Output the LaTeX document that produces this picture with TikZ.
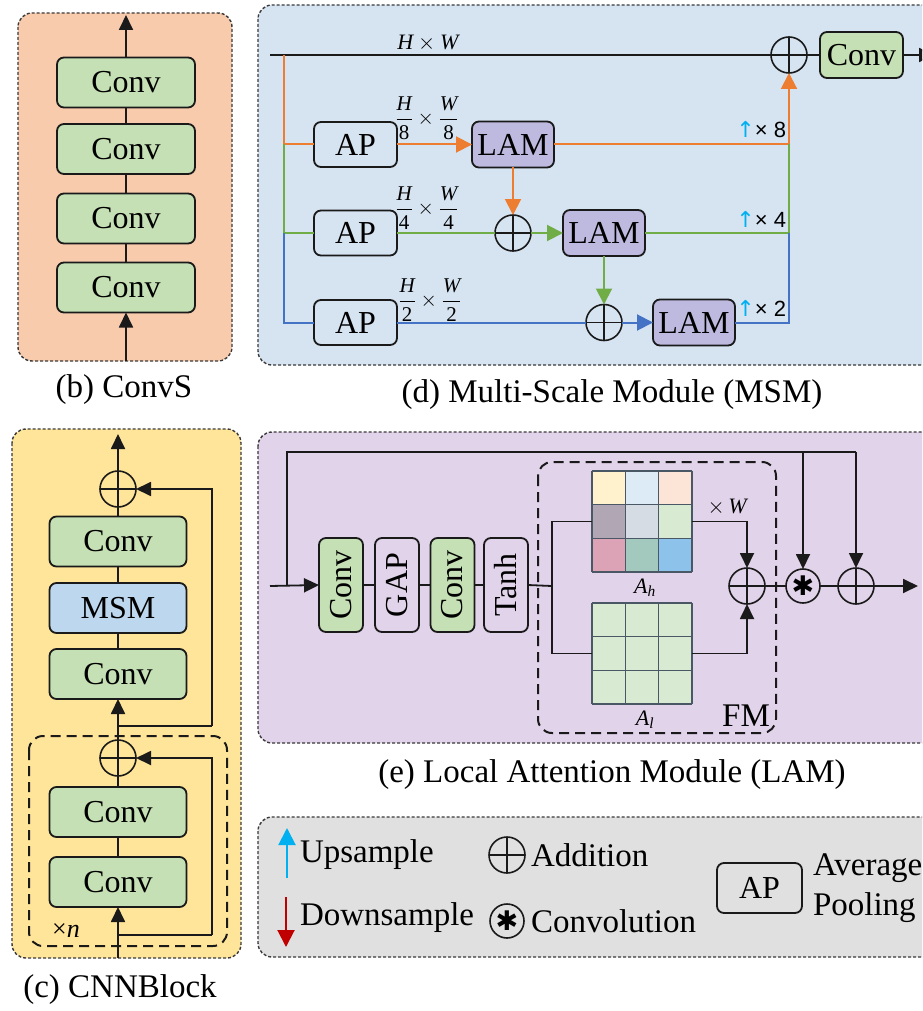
\RequirePackage{fix-cm}
\documentclass[tikz,border=0pt]{standalone}
\usepackage{fontspec}
\usepackage{amsmath}
\setmainfont{Liberation Serif}
\newfontfamily\arialfont{Liberation Sans}
\newfontfamily\djv{DejaVu Sans}
\usetikzlibrary{arrows.meta}
\definecolor{peach}{HTML}{F8CBAD}
\definecolor{convg}{HTML}{C5E0B4}
\definecolor{msmbg}{HTML}{D6E4F2}
\definecolor{lamc}{HTML}{BDB9DF}
\definecolor{cnnbg}{HTML}{FFE599}
\definecolor{msmbox}{HTML}{BDD7EE}
\definecolor{lambg}{HTML}{E1D3EA}
\definecolor{legbg}{HTML}{E0E0E0}
\definecolor{orangec}{HTML}{ED7D31}
\definecolor{greenc}{HTML}{70AD47}
\definecolor{bluec}{HTML}{4472C4}
\definecolor{upc}{HTML}{00B0F0}
\definecolor{downc}{HTML}{C00000}
\definecolor{linec}{HTML}{1A1A1A}
\definecolor{panelline}{HTML}{3A3A3A}
\definecolor{gridc}{HTML}{4A5866}
\definecolor{cA}{HTML}{FFF2CC}
\definecolor{cB}{HTML}{DDEBF7}
\definecolor{cC}{HTML}{FCE4D6}
\definecolor{cD}{HTML}{B1A6B3}
\definecolor{cE}{HTML}{D5DCE4}
\definecolor{cF}{HTML}{D9EAD3}
\definecolor{cG}{HTML}{DBA3B5}
\definecolor{cH}{HTML}{A3C8BD}
\definecolor{cI}{HTML}{8DC3EA}
\tikzset{
  every node/.style={inner sep=0pt, outer sep=0pt},
  bigtext/.style={font=\fontsize{32}{38}\selectfont},
  captext/.style={font=\fontsize{33}{40}\selectfont},
  box/.style={draw=linec, line width=1.8pt, rounded corners=7pt, bigtext},
  convbox/.style={box, fill=convg},
  cvbox/.style={convbox, minimum width=137pt, minimum height=50pt},
  apbox/.style={box, minimum width=83pt, minimum height=45pt},
  lambox/.style={box, fill=lamc, minimum width=82pt, minimum height=46pt},
  vbox/.style={box, minimum width=44pt, minimum height=94pt},
  panel/.style={draw=panelline, line width=1.4pt, dash pattern=on 3pt off 2pt, rounded corners=14pt},
  innerdash/.style={draw=linec, line width=2pt, dash pattern=on 10pt off 6pt, rounded corners=14pt},
  oplus/.style={circle, draw=linec, line width=1.6pt, minimum size=36pt,
    path picture={\draw[line width=1.6pt] (path picture bounding box.north) -- (path picture bounding box.south)
      (path picture bounding box.west) -- (path picture bounding box.east);}},
  opast/.style={circle, draw=linec, line width=1.6pt, minimum size=34pt, font=\djv\fontsize{27}{27}\selectfont},
  ln/.style={draw=linec, line width=1.8pt},
  cl/.style={line width=2pt},
  arr/.style={ln, -{Triangle[length=15pt,width=14pt]}},
  carr/.style={cl, -{Triangle[length=16pt,width=16pt]}},
  frac/.style={font=\fontsize{21}{25}\selectfont},
  smalllab/.style={font=\fontsize{22}{26}\selectfont},
  uplab/.style={font=\fontsize{22}{26}\selectfont, anchor=east},
  gridline/.style={draw=gridc, line width=1.5pt},
}
\begin{document}
\begin{tikzpicture}[x=1pt, y=-1pt]
\useasboundingbox (0,0) rectangle (922,1011);
\clip (0,0) rectangle (922,1011);
\fill[white] (0,0) rectangle (922,1011);

% ---------------- (b) ConvS ----------------
\draw[panel, fill=peach] (18,13) rectangle (232,361);
\node[cvbox, minimum width=138pt] (cs1) at (126,82.5) {Conv};
\node[cvbox, minimum width=138pt] (cs2) at (126,149) {Conv};
\node[cvbox, minimum width=138pt] (cs3) at (126,218.5) {Conv};
\node[cvbox, minimum width=138pt] (cs4) at (126,287.5) {Conv};
\coordinate (csout) at (126,15);
\coordinate (csin) at (126,361);
\draw[arr] (cs1.north) -- (csout);
\draw[ln] (cs1.south) -- (cs2.north);
\draw[ln] (cs2.south) -- (cs3.north);
\draw[ln] (cs3.south) -- (cs4.north);
\draw[arr] (csin) -- (cs4.south);
\node[captext] (capb) at (124,390) {(b) ConvS};

% ---------------- (d) MSM ----------------
\draw[panel, fill=msmbg] (258,5) rectangle (980,365);
\node[oplus] (mplus) at (789,55) {};
\node[convbox, minimum width=83pt, minimum height=46pt] (mconv) at (861.5,55) {Conv};
\coordinate (mstart) at (270,55);
\coordinate (mout) at (934,55);
\draw[ln] (mstart) -- (mplus.west);
\draw[ln] (mplus.east) -- (mconv.west);
\draw[arr] (mconv.east) -- (mout);
\node[smalllab] (lhw) at (428,43) {$\textit{H}\times\textit{W}$};

\node[apbox] (ap1) at (355.5,144.5) {AP};
\node[apbox] (ap2) at (355.5,233) {AP};
\node[apbox] (ap3) at (355.5,322.5) {AP};
\node[lambox] (lam1) at (513,144.5) {LAM};
\node[lambox] (lam2) at (604,233) {LAM};
\node[lambox] (lam3) at (694,322.5) {LAM};
\node[oplus] (op2) at (513,233) {};
\node[oplus] (op3) at (604,322.5) {};

\coordinate (mtap) at (284,55);
\coordinate (mj1) at (284,144.5);
\coordinate (mj2) at (284,233);
\coordinate (mj3) at (284,322.5);
\coordinate (mr1) at (789,144.5);
\coordinate (mr2) at (789,233);
\coordinate (mr3) at (789,322.5);

% orange
\draw[cl, orangec] (mtap) -- (mj1) -- (ap1.west);
\draw[carr, orangec] (ap1.east) -- (lam1.west);
\draw[cl, orangec] (lam1.east) -- (mr1);
\draw[carr, orangec] (mr1) -- (mplus.south);
\draw[carr, orangec] (lam1.south) -- (op2.north);
% green
\draw[cl, greenc] (mj1) -- (mj2) -- (ap2.west);
\draw[cl, greenc] (ap2.east) -- (op2.west);
\draw[carr, greenc] (op2.east) -- (lam2.west);
\draw[cl, greenc] (lam2.east) -- (mr2) -- (mr1);
\draw[carr, greenc] (lam2.south) -- (op3.north);
% blue
\draw[cl, bluec] (mj2) -- (mj3) -- (ap3.west);
\draw[cl, bluec] (ap3.east) -- (op3.west);
\draw[carr, bluec] (op3.east) -- (lam3.west);
\draw[cl, bluec] (lam3.east) -- (mr3) -- (mr2);

\node[frac] (fr1) at (427,118) {$\dfrac{\textit{H}}{\text{8}}\times\dfrac{\textit{W}}{\text{8}}$};
\node[frac] (fr2) at (427,208) {$\dfrac{\textit{H}}{\text{4}}\times\dfrac{\textit{W}}{\text{4}}$};
\node[frac] (fr3) at (430,300) {$\dfrac{\textit{H}}{\text{2}}\times\dfrac{\textit{W}}{\text{2}}$};
\node[uplab] (up8) at (786,130) {{\djv\color{upc}↑}{\arialfont × 8}};
\node[uplab] (up4) at (786,219) {{\djv\color{upc}↑}{\arialfont × 4}};
\node[uplab] (up2) at (786,308) {{\djv\color{upc}↑}{\arialfont × 2}};
\node[captext] (capd) at (612,395) {(d) Multi-Scale Module (MSM)};

% ---------------- (c) CNNBlock ----------------
\draw[panel, fill=cnnbg] (12,429) rectangle (241,958);
\draw[innerdash] (29,736) rectangle (227,946);
\node[oplus] (cp1) at (118,489) {};
\node[cvbox] (cb1) at (118,541.5) {Conv};
\node[cvbox, fill=msmbox] (cbm) at (118,608) {MSM};
\node[cvbox] (cb2) at (118,674) {Conv};
\node[oplus] (cp2) at (118,758) {};
\node[cvbox] (cb3) at (118,812) {Conv};
\node[cvbox] (cb4) at (118,882) {Conv};
\coordinate (cbout) at (118,434);
\coordinate (cbin) at (118,958);
\coordinate (ct1) at (118,935);
\coordinate (ct1r) at (212,935);
\coordinate (ct2) at (118,726);
\coordinate (ct2r) at (212,726);
\draw[arr] (cbin) -- (cb4.south);
\draw[ln] (cb4.north) -- (cb3.south);
\draw[ln] (cb3.north) -- (cp2.south);
\draw[arr] (cp2.north) -- (cb2.south);
\draw[ln] (cb2.north) -- (cbm.south);
\draw[ln] (cbm.north) -- (cb1.south);
\draw[ln] (cb1.north) -- (cp1.south);
\draw[arr] (cp1.north) -- (cbout);
\draw[ln] (ct1) -- (ct1r);
\draw[arr] (ct1r) |- (cp2.east);
\draw[ln] (ct2) -- (ct2r);
\draw[arr] (ct2r) |- (cp1.east);
\node[font=\fontsize{26}{30}\selectfont] (xn) at (66,931) {×\textit{n}};
\node[captext] (capc) at (120,990) {(c) CNNBlock};

% ---------------- (e) LAM ----------------
\draw[panel, fill=lambg] (258,432) rectangle (980,743);
\draw[innerdash] (538,462) rectangle (776,733);
\node[vbox, fill=convg] (lc1) at (341,585) {\rotatebox{90}{Conv}};
\node[vbox] (lg) at (397,585) {\rotatebox{90}{GAP}};
\node[vbox, fill=convg] (lc2) at (452.5,585) {\rotatebox{90}{Conv}};
\node[vbox] (lt) at (506,585) {\rotatebox{90}{Tanh}};
\coordinate (lin) at (270,586);
\coordinate (ltap) at (287,586);
\coordinate (lb) at (552,586);
\draw[arr] (lin) -- (lc1.west);
\draw[ln] (lc1.east) -- (lg.west);
\draw[ln] (lg.east) -- (lc2.west);
\draw[ln] (lc2.east) -- (lt.west);
\draw[ln] (lt.east) -- (lb);

% attention maps
\node[minimum width=100pt, minimum height=101pt] (Ah) at (642,521.5) {};
\node[minimum width=100pt, minimum height=101pt] (Al) at (642,653.5) {};
\foreach \col/\cx/\cy in {cA/0/0, cB/1/0, cC/2/0, cD/0/1, cE/1/1, cF/2/1, cG/0/2, cH/1/2, cI/2/2}
  \fill[\col] ({592+\cx*33.333},{471+\cy*33.667}) rectangle ++(33.333,33.667);
\fill[cF] (592,603) rectangle (692,704);
\foreach \k in {0,1,2,3} {
  \draw[gridline] ({592+\k*33.333},471) -- ({592+\k*33.333},572);
  \draw[gridline] (592,{471+\k*33.667}) -- (692,{471+\k*33.667});
  \draw[gridline] ({592+\k*33.333},603) -- ({592+\k*33.333},704);
  \draw[gridline] (592,{603+\k*33.667}) -- (692,{603+\k*33.667});
}
\node[smalllab] (lAh) at (645,588) {$\textit{A}_{\textit{h}}$};
\node[smalllab] (lAl) at (645,720) {$\textit{A}_{\textit{l}}$};
\node[captext] (lFM) at (746,716) {FM};
\node[smalllab] (lxw) at (728,507) {$\times$\,\textit{W}};

\draw[ln] (Ah.west) -| (lb) |- (Al.west);
\node[oplus] (fo) at (747,586) {};
\node[opast] (lconv) at (803,586) {✱};
\node[oplus] (lp) at (856,586) {};
\coordinate (lout) at (918,586);
\draw[arr] (Ah.east) -| (fo.north);
\draw[arr] (Al.east) -| (fo.south);
\draw[ln] (fo.east) -- (lconv.west);
\draw[ln] (lconv.east) -- (lp.west);
\draw[arr] (lp.east) -- (lout);
\coordinate (lsk2) at (803,452);
\coordinate (lsk3) at (856,452);
\draw[ln] (ltap) |- (lsk3);
\draw[arr] (lsk3) -- (lp.north);
\draw[arr] (lsk2) -- (lconv.north);
\node[captext] (cape) at (612,775) {(e) Local Attention Module (LAM)};

% ---------------- legend ----------------
\draw[panel, fill=legbg] (258,817) rectangle (980,957);
\coordinate (ua) at (287,878);
\coordinate (ub) at (287,828);
\coordinate (da) at (286,897);
\coordinate (db) at (286,947);
\draw[upc, line width=2pt, -{Triangle[length=17pt,width=17pt]}] (ua) -- (ub);
\draw[downc, line width=2pt, -{Triangle[length=17pt,width=17pt]}] (da) -- (db);
\node[captext, anchor=west] (tup) at (300,855) {Upsample};
\node[captext, anchor=west] (tdown) at (300,918) {Downsample};
\node[oplus] (lgp) at (507,855) {};
\node[opast] (lga) at (507,921) {✱};
\node[captext, anchor=west] (tadd) at (531,855) {Addition};
\node[captext, anchor=west] (tconv) at (531,921) {Convolution};
\node[box, minimum width=85pt, minimum height=50pt] (lgap) at (759.5,888) {AP};
\node[captext, anchor=west, align=left] (tavg) at (813,888) {Average\\Pooling};
\end{tikzpicture}
\end{document}
